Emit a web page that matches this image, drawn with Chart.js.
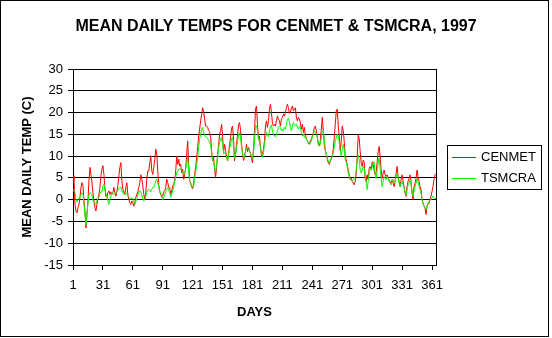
<!DOCTYPE html>
<html>
<head>
<meta charset="utf-8">
<script src="https://cdn.jsdelivr.net/npm/chart.js@4.4.0/dist/chart.umd.min.js"></script>
<style>
  html, body { margin: 0; padding: 0; background: #fff; }
  canvas { display: block; }
</style>
</head>
<body>
<canvas id="tempChart" width="552" height="338"></canvas>
<script>
// day numbers for the x axis, and the labelled ticks on both axes
const days = Array.from({ length: 365 }, (_, i) => i + 1);
const dayTicks = [1, 31, 61, 91, 121, 151, 181, 211, 241, 271, 301, 331, 361];
const tempTicks = [-15, -10, -5, 0, 5, 10, 15, 20, 25, 30];

// mean daily temperature (C), 1997
const cenmet = [
    5.5, 4.3, -1.1, -2.6, -3.0, -1.8, -1.1, 0.5, 2.8, 3.9,
    3.2, -0.3, -2.6, -6.5, -3.4, -0.3, 4.3, 7.4, 5.8, 3.9,
    1.6, -0.3, -1.8, -2.6, -1.1, 0.1, 1.2, 2.8, 5.5, 7.0,
    7.8, 5.8, 2.8, 0.8, 0.5, 1.6, 2.0, 1.2, 1.8, 1.2,
    1.6, 2.8, 1.6, 0.8, 2.0, 3.2, 5.5, 7.4, 8.5, 4.3,
    2.4, 1.8, 1.2, 2.8, 3.9, 1.2, 0.1, -0.7, -1.1, -0.3,
    -0.7, -1.5, -0.7, 0.5, 1.2, 1.8, 2.8, 3.9, 5.7, 4.7,
    3.2, 1.2, 0.1, 1.6, 4.7, 6.6, 6.6, 8.5, 10.1, 6.6,
    5.8, 7.4, 9.3, 11.6, 10.5, 6.6, 3.5, 1.8, 1.2, 0.6,
    0.8, 1.8, 2.1, 2.8, 4.7, 3.9, 2.8, 2.8, 1.2, 2.0,
    3.1, 3.7, 4.4, 6.6, 10.0, 8.1, 9.3, 7.7, 8.1, 6.2,
    7.0, 4.7, 5.8, 7.4, 10.4, 13.5, 8.1, 4.4, 3.7, 2.9,
    2.5, 3.9, 5.8, 7.4, 9.7, 12.0, 14.6, 16.2, 18.1, 19.5,
    21.1, 20.2, 18.5, 16.9, 16.9, 16.6, 15.9, 15.6, 14.3, 11.2,
    8.9, 9.7, 7.0, 5.1, 7.4, 10.3, 12.7, 14.9, 15.8, 17.3,
    14.6, 11.0, 12.7, 11.3, 9.8, 8.9, 10.6, 12.6, 14.3, 16.4,
    16.9, 13.9, 8.9, 10.6, 12.7, 14.9, 17.2, 17.7, 15.9, 12.9,
    10.6, 9.0, 9.7, 11.3, 12.7, 11.0, 12.0, 11.3, 10.6, 9.5,
    8.5, 11.6, 15.8, 20.8, 21.5, 17.3, 13.9, 14.6, 12.0, 10.0,
    10.4, 11.6, 13.5, 16.9, 18.1, 16.6, 18.1, 20.8, 21.9, 20.0,
    17.5, 16.9, 17.3, 16.9, 18.1, 19.2, 18.5, 18.1, 16.9, 18.5,
    18.9, 19.6, 19.2, 20.0, 21.1, 21.9, 21.1, 19.8, 20.0, 21.1,
    21.5, 20.4, 20.8, 21.1, 19.0, 18.1, 18.9, 18.5, 17.7, 16.2,
    17.3, 15.4, 16.6, 15.0, 13.9, 13.5, 13.1, 12.7, 13.5, 13.9,
    14.6, 15.4, 16.6, 16.9, 15.8, 14.3, 12.7, 12.3, 13.5, 16.2,
    18.9, 15.8, 12.7, 11.2, 10.4, 9.3, 8.5, 8.1, 8.9, 9.3,
    10.0, 11.6, 14.3, 17.3, 20.4, 20.8, 16.9, 14.3, 11.2, 13.5,
    16.9, 15.8, 13.3, 9.9, 9.1, 8.0, 6.8, 5.7, 4.6, 4.9,
    4.2, 3.8, 3.4, 4.2, 6.1, 9.9, 14.8, 14.1, 11.0, 8.4,
    7.6, 9.1, 8.7, 4.9, 4.2, 5.7, 4.6, 7.2, 7.6, 6.8,
    8.7, 8.0, 6.8, 5.7, 6.1, 8.7, 11.0, 12.2, 9.9, 6.8,
    4.9, 6.1, 6.8, 5.7, 5.3, 5.7, 4.9, 4.6, 4.2, 3.8,
    4.6, 3.8, 3.0, 4.2, 6.1, 7.6, 5.3, 4.2, 3.0, 4.6,
    5.7, 4.2, 3.0, 1.5, 0.8, 3.0, 4.2, 4.9, 5.7, 4.2,
    1.5, 0.0, 3.0, 3.8, 4.9, 6.8, 5.3, 4.2, 3.0, 2.3,
    0.0, -0.8, -1.5, -1.9, -3.4, -1.5, -1.1, -0.8, 0.0, 0.8,
    1.9, 3.0, 4.6, 5.7, 6.0
];

const tsmcra = [
    2.4, 2.4, 1.6, 0.1, -0.5, 0.1, 0.3, 0.6, 1.1, 1.6,
    1.2, -1.1, -3.4, -5.8, -3.4, -0.7, 1.1, 1.6, 1.4, 1.1,
    -0.2, -0.7, -1.1, -0.9, -0.3, 0.3, 0.6, 1.4, 1.8, 1.8,
    3.2, 3.5, 2.2, 1.4, 0.8, -0.3, -1.1, 0.1, 0.8, 1.6,
    1.4, 1.2, 1.4, 1.6, 1.8, 2.2, 2.4, 2.8, 2.9, 2.2,
    1.6, 1.2, 1.4, 1.6, 1.2, 0.8, 0.5, 0.1, 0.2, 0.5,
    0.1, -0.5, -1.1, -0.5, 0.3, 1.1, 1.6, 2.0, 1.8, 1.1,
    0.3, -0.3, 0.1, 0.8, 1.8, 2.2, 2.4, 2.2, 1.8, 2.4,
    2.8, 2.8, 3.5, 4.3, 4.7, 3.9, 2.9, 2.0, 1.4, 0.8,
    0.0, 0.6, 1.2, 1.8, 2.4, 2.8, 2.1, 1.6, 0.6, 1.2,
    2.0, 2.9, 4.1, 5.2, 6.2, 6.6, 7.0, 7.0, 7.0, 6.7,
    6.4, 5.8, 6.0, 7.0, 8.1, 9.7, 6.6, 4.1, 3.9, 3.1,
    2.8, 3.1, 5.1, 6.4, 8.0, 9.7, 12.0, 13.9, 15.0, 16.2,
    16.6, 15.4, 14.9, 14.4, 14.3, 14.0, 13.6, 13.1, 12.6, 10.8,
    9.0, 8.9, 7.2, 6.4, 8.1, 9.8, 11.8, 13.1, 13.9, 14.3,
    12.7, 10.6, 10.8, 10.3, 9.7, 9.0, 10.3, 11.8, 12.7, 14.1,
    14.3, 12.3, 9.5, 10.3, 11.8, 13.3, 14.9, 15.4, 14.4, 12.1,
    10.6, 9.5, 10.0, 11.0, 12.0, 11.7, 11.6, 11.0, 10.6, 10.0,
    9.5, 10.8, 13.5, 17.2, 16.9, 15.8, 13.9, 13.1, 12.0, 10.4,
    9.7, 10.8, 12.6, 14.4, 15.4, 15.0, 14.4, 15.8, 16.9, 17.2,
    15.8, 15.0, 14.6, 14.4, 15.0, 15.8, 16.6, 16.9, 16.6, 15.8,
    16.2, 15.8, 16.6, 16.2, 17.3, 18.5, 18.7, 17.9, 16.6, 15.8,
    16.9, 17.7, 17.3, 16.9, 17.3, 16.6, 16.2, 16.9, 16.6, 15.4,
    14.6, 15.0, 14.3, 14.6, 13.9, 13.5, 13.1, 12.7, 12.9, 13.5,
    14.3, 15.0, 15.8, 15.4, 15.0, 14.3, 13.1, 12.3, 12.7, 14.3,
    15.6, 15.8, 13.9, 11.6, 10.4, 9.7, 8.9, 8.5, 8.9, 9.7,
    10.0, 10.8, 12.0, 13.5, 14.3, 15.0, 14.6, 13.1, 11.2, 10.0,
    11.6, 12.7, 11.5, 9.1, 8.7, 7.6, 6.1, 5.3, 4.9, 4.6,
    4.2, 4.6, 4.9, 5.3, 6.8, 9.1, 10.3, 9.1, 6.8, 6.1,
    6.8, 7.6, 7.2, 5.3, 4.2, 2.3, 4.2, 6.1, 7.2, 6.8,
    7.6, 8.4, 8.7, 6.1, 4.9, 6.8, 8.4, 9.5, 7.2, 4.9,
    3.0, 4.2, 5.3, 4.9, 4.6, 5.3, 4.9, 4.2, 3.8, 3.4,
    4.2, 4.6, 3.8, 4.2, 5.3, 6.1, 4.9, 3.8, 3.0, 3.8,
    4.2, 3.4, 2.7, 1.9, 1.1, 2.3, 3.4, 3.8, 4.6, 3.4,
    1.9, 0.8, 1.9, 3.0, 3.8, 4.9, 4.2, 3.0, 2.3, 1.5,
    0.0, -0.8, -1.5, -1.9, -2.3, -1.5, -0.8, -0.4, 0.0, 0.0,
    0.4, 0.8, 0.4, 0.2, 0.3
];

const FONT = 'Liberation Sans, Arial, sans-serif';

// white background, outer frame and the boxed legend on the right
const framePlugin = {
    id: 'frame',
    beforeDraw(chart) {
        const ctx = chart.ctx;
        ctx.save();
        ctx.fillStyle = '#fff';
        ctx.fillRect(0, 0, chart.width, chart.height);
        ctx.restore();
    },
    afterDraw(chart) {
        const ctx = chart.ctx;
        ctx.save();
        ctx.strokeStyle = '#000';
        ctx.lineWidth = 1;
        ctx.strokeRect(0.5, 0.5, 548, 336);

        // legend
        ctx.strokeRect(447.5, 145.5, 94, 44);
        ctx.font = '13px ' + FONT;
        ctx.textBaseline = 'middle';
        ctx.fillStyle = '#000';
        const rows = [157, 178.5];
        [cenmetSet, tsmcraSet].forEach((ds, i) => {
            ctx.strokeStyle = ds.borderColor;
            ctx.beginPath();
            ctx.moveTo(452, Math.floor(rows[i]) + 0.5);
            ctx.lineTo(476, Math.floor(rows[i]) + 0.5);
            ctx.stroke();
            ctx.fillText(ds.label, 481, rows[i]);
        });
        ctx.restore();
    }
};

const cenmetSet = {
    label: 'CENMET',
    data: cenmet,
    borderColor: '#ff0000',
    borderWidth: 1,
    pointRadius: 0,
    tension: 0,
    order: 1
};
const tsmcraSet = {
    label: 'TSMCRA',
    data: tsmcra,
    borderColor: '#00ff00',
    borderWidth: 1,
    pointRadius: 0,
    tension: 0,
    order: 0
};

new Chart(document.getElementById('tempChart'), {
    type: 'line',
    data: {
        labels: days,
        datasets: [cenmetSet, tsmcraSet]
    },
    options: {
        responsive: false,
        animation: false,
        events: [],
        layout: { padding: 0 },
        plugins: {
            legend: { display: false },
            tooltip: { enabled: false },
            title: {
                display: true,
                text: 'MEAN DAILY TEMPS FOR CENMET & TSMCRA, 1997',
                color: '#000',
                font: { family: FONT, size: 16, weight: 'bold' },
                padding: { top: 17, bottom: 32.8 }
            }
        },
        scales: {
            x: {
                type: 'linear',
                min: 1,
                max: 365,
                afterBuildTicks: axis => { axis.ticks = dayTicks.map(v => ({ value: v })); },
                afterFit: scale => { scale.height = 73; },
                grid: { drawOnChartArea: false, drawTicks: true, tickLength: 5, color: '#000' },
                border: { color: '#000' },
                ticks: { color: '#000', font: { family: FONT, size: 13 }, padding: 8, maxRotation: 0, autoSkip: false },
                title: {
                    display: true,
                    text: 'DAYS',
                    color: '#000',
                    font: { family: FONT, size: 13, weight: 'bold' },
                    padding: { top: 0, bottom: 18 }
                }
            },
            y: {
                min: -15,
                max: 30,
                afterBuildTicks: axis => { axis.ticks = tempTicks.map(v => ({ value: v })); },
                afterFit: scale => { scale.width = 73; },
                grid: { color: '#000', tickLength: 5 },
                border: { color: '#000' },
                ticks: { color: '#000', font: { family: FONT, size: 13 }, padding: 5 },
                title: {
                    display: true,
                    text: 'MEAN DAILY TEMP (C)',
                    color: '#000',
                    font: { family: FONT, size: 13, weight: 'bold' },
                    padding: { top: 20, bottom: 0 }
                }
            },
            // empty axis on the right: closes the plot box and reserves room for the legend
            y2: {
                position: 'right',
                display: true,
                afterFit: scale => { scale.width = 116; },
                grid: { drawOnChartArea: false, drawTicks: false },
                border: { display: true, color: '#000' },
                ticks: { display: false }
            }
        }
    },
    plugins: [framePlugin]
});
</script>
</body>
</html>
